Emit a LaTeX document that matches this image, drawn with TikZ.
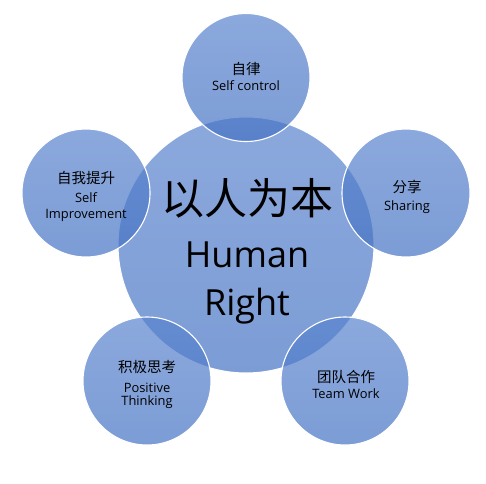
\documentclass[tikz,border=0pt]{standalone}
\usepackage{fontspec}
\setmainfont{Open Sans}
\newfontfamily\cjk{Noto Sans CJK SC}
\definecolor{blueTop}{HTML}{5A84CE}
\definecolor{blueBot}{HTML}{4472C4}
\begin{document}
\begin{tikzpicture}[x=1pt,y=-1pt,
  disc/.style={circle, inner sep=0pt, top color=blueTop, bottom color=blueBot,
    fill opacity=0.7, draw=white, draw opacity=1, line width=1.1pt},
  bigdisc/.style={disc, minimum size=256pt},
  smalldisc/.style={disc, minimum size=128pt},
  zh/.style={inner sep=0pt, anchor=base, font=\cjk\fontsize{14.5}{17}\selectfont},
  en/.style={inner sep=0pt, anchor=base, font=\fontsize{12.9}{15}\selectfont},
  bigzh/.style={inner sep=0pt, anchor=base, font=\cjk\fontsize{43}{48}\selectfont},
  bigen/.style={inner sep=0pt, anchor=base, font=\fontsize{36}{40}\selectfont}]
\useasboundingbox (0,0) rectangle (486,483);
% circles
\node[bigdisc] (c) at (246,245) {};
\node[smalldisc] (t) at (246,77.5) {};
\node[smalldisc] (l) at (86,193) {};
\node[smalldisc] (r) at (406,193) {};
\node[smalldisc] (bl) at (147,381) {};
\node[smalldisc] (br) at (345,381) {};
% center text
\node[bigzh] (c1) at (247,214) {以人为本};
\node[bigen] (c2) at (247,267) {Human};
\node[bigen] (c3) at (247,315) {Right};
% top
\node[zh] (t1) at (246,74.7) {自律};
\node[en] (t2) at (246,90) {Self control};
% left
\node[zh] (l1) at (86,183.7) {自我提升};
\node[en] (l2) at (86,202) {Self};
\node[en] (l3) at (86,218) {Improvement};
% right
\node[zh] (r1) at (407,192.7) {分享};
\node[en] (r2) at (407,210) {Sharing};
% bottom left
\node[zh] (bl1) at (147,372.7) {积极思考};
\node[en] (bl2) at (147,392) {Positive};
\node[en] (bl3) at (147,405) {Thinking};
% bottom right
\node[zh] (br1) at (346,382.7) {团队合作};
\node[en] (br2) at (346,398) {Team Work};
\end{tikzpicture}
\end{document}
